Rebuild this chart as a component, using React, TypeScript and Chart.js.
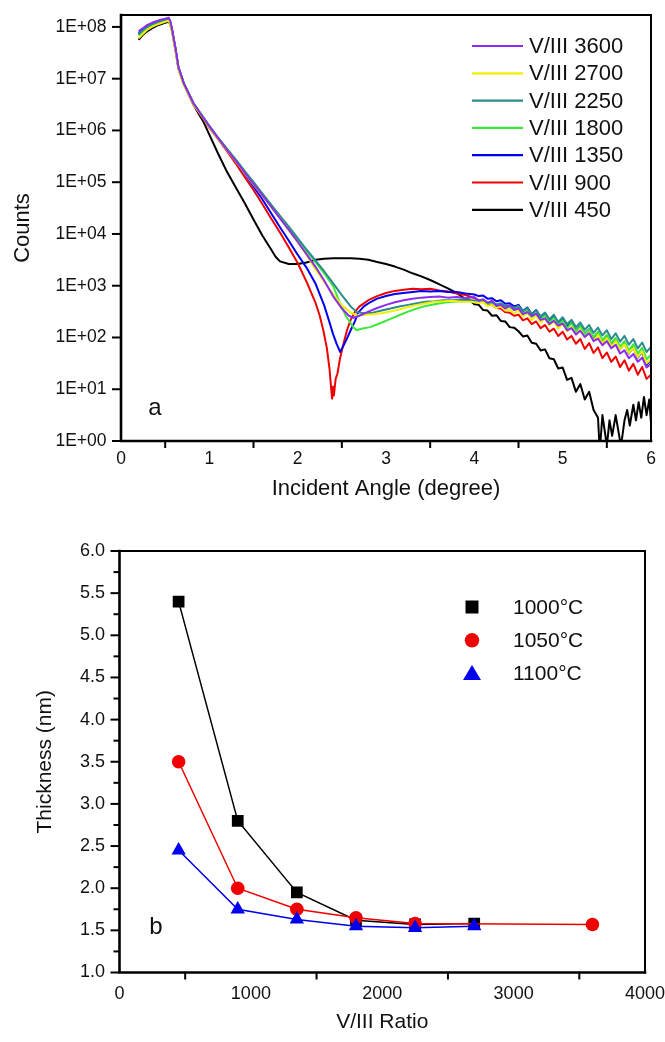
import React, { useEffect, useRef } from "react";
import { Chart, registerables } from "chart.js";

Chart.register(...registerables);

const FONT = "'Liberation Sans', Arial, Helvetica, sans-serif";
const INK = "#111111";

// ---------------- Panel a: XRR curves (angle in degree, log10 of counts) ----------------
const angleMinorTicks = [0.5, 1.5, 2.5, 3.5, 4.5, 5.5];
const countDecades = [1, 10, 100, 1e3, 1e4, 1e5, 1e6, 1e7, 1e8];
const countTickLabels = ["1E+00", "1E+01", "1E+02", "1E+03", "1E+04", "1E+05", "1E+06", "1E+07", "1E+08"];
const xrrLabels = ["V/III 3600", "V/III 2700", "V/III 2250", "V/III 1800", "V/III 1350", "V/III 900", "V/III 450"];

const log3600 = [
  [0.2, 7.92], [0.25, 7.98], [0.3, 8.04], [0.35, 8.08], [0.4, 8.11], [0.45, 8.14], [0.5, 8.16], [0.54, 8.18],
  [0.56, 8.1], [0.58, 7.93], [0.62, 7.55], [0.65, 7.22], [0.71, 6.91], [0.82, 6.52], [0.93, 6.25], [1.0, 6.08],
  [1.09, 5.87], [1.2, 5.63], [1.3, 5.41], [1.4, 5.19], [1.5, 4.97], [1.6, 4.75], [1.7, 4.53], [1.8, 4.3],
  [1.9, 4.08], [2.0, 3.85], [2.1, 3.61], [2.2, 3.37], [2.3, 3.1], [2.4, 2.8], [2.5, 2.56], [2.58, 2.42],
  [2.63, 2.38], [2.7, 2.42], [2.8, 2.5], [2.9, 2.57], [3.0, 2.63], [3.1, 2.68], [3.2, 2.72], [3.3, 2.75],
  [3.4, 2.77], [3.5, 2.78], [3.6, 2.79], [3.7, 2.77], [3.8, 2.78], [3.9, 2.76], [4.0, 2.78], [4.05, 2.71],
  [4.1, 2.74], [4.15, 2.67], [4.2, 2.71], [4.25, 2.61], [4.3, 2.63], [4.35, 2.56], [4.4, 2.62], [4.45, 2.53],
  [4.5, 2.56], [4.55, 2.45], [4.6, 2.49], [4.65, 2.41], [4.7, 2.46], [4.75, 2.34], [4.8, 2.37], [4.85, 2.26],
  [4.9, 2.32], [4.95, 2.23], [5.0, 2.27], [5.05, 2.14], [5.1, 2.18], [5.15, 2.06], [5.2, 2.13], [5.25, 2.01],
  [5.3, 2.08], [5.35, 1.93], [5.4, 1.98], [5.45, 1.85], [5.5, 1.93], [5.55, 1.79], [5.6, 1.86], [5.65, 1.69],
  [5.7, 1.75], [5.75, 1.6], [5.8, 1.68], [5.85, 1.53], [5.9, 1.61], [5.95, 1.42], [6.0, 1.49],
];

const log2700 = [
  [0.2, 7.78], [0.25, 7.87], [0.3, 7.95], [0.35, 8.0], [0.4, 8.04], [0.45, 8.07], [0.5, 8.1], [0.54, 8.12],
  [0.56, 8.02], [0.58, 7.88], [0.62, 7.5], [0.65, 7.18], [0.71, 6.88], [0.82, 6.5], [0.93, 6.24], [1.0, 6.06],
  [1.09, 5.85], [1.2, 5.62], [1.3, 5.4], [1.4, 5.18], [1.5, 4.96], [1.6, 4.74], [1.7, 4.52], [1.8, 4.3],
  [1.9, 4.07], [2.0, 3.84], [2.1, 3.6], [2.2, 3.32], [2.3, 3.08], [2.4, 2.84], [2.5, 2.62], [2.6, 2.48],
  [2.67, 2.43], [2.75, 2.44], [2.85, 2.45], [2.95, 2.47], [3.05, 2.5], [3.15, 2.54], [3.25, 2.59], [3.35, 2.63],
  [3.45, 2.66], [3.55, 2.69], [3.65, 2.7], [3.75, 2.71], [3.85, 2.69], [3.95, 2.69], [4.05, 2.67], [4.1, 2.68],
  [4.15, 2.61], [4.2, 2.63], [4.25, 2.57], [4.3, 2.6], [4.35, 2.52], [4.4, 2.54], [4.45, 2.47], [4.5, 2.52],
  [4.55, 2.4], [4.6, 2.48], [4.65, 2.34], [4.7, 2.43], [4.75, 2.29], [4.8, 2.37], [4.85, 2.23], [4.9, 2.32],
  [4.95, 2.17], [5.0, 2.27], [5.05, 2.12], [5.1, 2.21], [5.15, 2.06], [5.2, 2.16], [5.25, 2.0], [5.3, 2.1],
  [5.35, 1.94], [5.4, 2.05], [5.45, 1.89], [5.5, 1.99], [5.55, 1.83], [5.6, 1.93], [5.65, 1.77], [5.7, 1.87],
  [5.75, 1.7], [5.8, 1.8], [5.85, 1.62], [5.9, 1.73], [5.95, 1.5], [6.0, 1.58],
];

const log2250 = [
  [0.2, 7.86], [0.25, 7.94], [0.3, 8.0], [0.35, 8.05], [0.4, 8.08], [0.45, 8.11], [0.5, 8.13], [0.54, 8.15],
  [0.56, 8.08], [0.58, 7.92], [0.62, 7.54], [0.65, 7.22], [0.71, 6.92], [0.82, 6.53], [0.93, 6.26], [1.0, 6.09],
  [1.09, 5.88], [1.2, 5.64], [1.3, 5.43], [1.4, 5.21], [1.5, 5.0], [1.6, 4.78], [1.7, 4.56], [1.8, 4.35],
  [1.9, 4.14], [2.0, 3.92], [2.1, 3.7], [2.2, 3.49], [2.3, 3.28], [2.4, 3.05], [2.5, 2.82], [2.6, 2.6],
  [2.67, 2.49], [2.75, 2.47], [2.85, 2.48], [2.95, 2.52], [3.05, 2.56], [3.15, 2.6], [3.25, 2.63], [3.35, 2.66],
  [3.45, 2.69], [3.55, 2.7], [3.65, 2.72], [3.75, 2.72], [3.85, 2.73], [3.95, 2.72], [4.05, 2.71], [4.1, 2.72],
  [4.15, 2.67], [4.2, 2.69], [4.25, 2.64], [4.3, 2.66], [4.35, 2.61], [4.4, 2.62], [4.45, 2.57], [4.5, 2.61],
  [4.55, 2.51], [4.6, 2.57], [4.65, 2.45], [4.7, 2.53], [4.75, 2.41], [4.8, 2.48], [4.85, 2.35], [4.9, 2.44],
  [4.95, 2.3], [5.0, 2.39], [5.05, 2.26], [5.1, 2.34], [5.15, 2.2], [5.2, 2.29], [5.25, 2.15], [5.3, 2.24],
  [5.35, 2.09], [5.4, 2.19], [5.45, 2.04], [5.5, 2.14], [5.55, 1.97], [5.6, 2.08], [5.65, 1.92], [5.7, 2.03],
  [5.75, 1.86], [5.8, 1.97], [5.85, 1.79], [5.9, 1.9], [5.95, 1.72], [6.0, 1.82],
];

const log1800 = [
  [0.2, 7.84], [0.25, 7.92], [0.3, 7.99], [0.35, 8.04], [0.4, 8.07], [0.45, 8.1], [0.5, 8.12], [0.54, 8.14],
  [0.56, 8.07], [0.58, 7.92], [0.62, 7.54], [0.65, 7.22], [0.71, 6.92], [0.82, 6.53], [0.93, 6.26], [1.0, 6.09],
  [1.09, 5.88], [1.2, 5.65], [1.3, 5.44], [1.4, 5.22], [1.5, 5.0], [1.6, 4.78], [1.7, 4.56], [1.8, 4.34],
  [1.9, 4.12], [2.0, 3.9], [2.1, 3.68], [2.2, 3.46], [2.3, 3.24], [2.4, 3.0], [2.48, 2.66], [2.55, 2.4],
  [2.63, 2.2], [2.67, 2.14], [2.72, 2.17], [2.82, 2.2], [2.94, 2.28], [3.05, 2.36], [3.15, 2.43], [3.25, 2.5],
  [3.35, 2.56], [3.45, 2.61], [3.55, 2.64], [3.65, 2.67], [3.75, 2.69], [3.85, 2.7], [3.95, 2.71], [4.05, 2.7],
  [4.1, 2.71], [4.15, 2.65], [4.2, 2.67], [4.25, 2.61], [4.3, 2.63], [4.35, 2.57], [4.4, 2.59], [4.45, 2.53],
  [4.5, 2.57], [4.55, 2.46], [4.6, 2.53], [4.65, 2.4], [4.7, 2.47], [4.75, 2.35], [4.8, 2.43], [4.85, 2.29],
  [4.9, 2.38], [4.95, 2.24], [5.0, 2.33], [5.05, 2.18], [5.1, 2.28], [5.15, 2.12], [5.2, 2.22], [5.25, 2.07],
  [5.3, 2.16], [5.35, 2.01], [5.4, 2.11], [5.45, 1.95], [5.5, 2.05], [5.55, 1.89], [5.6, 1.99], [5.65, 1.82],
  [5.7, 1.93], [5.75, 1.75], [5.8, 1.87], [5.85, 1.69], [5.9, 1.8], [5.95, 1.58], [6.0, 1.66],
];

const log1350 = [
  [0.2, 7.88], [0.25, 7.95], [0.3, 8.01], [0.35, 8.06], [0.4, 8.09], [0.45, 8.12], [0.5, 8.14], [0.54, 8.16],
  [0.56, 8.08], [0.58, 7.93], [0.62, 7.55], [0.65, 7.22], [0.71, 6.91], [0.82, 6.52], [0.93, 6.25], [1.0, 6.07],
  [1.09, 5.86], [1.2, 5.62], [1.3, 5.4], [1.4, 5.17], [1.5, 4.92], [1.6, 4.67], [1.7, 4.4], [1.8, 4.13],
  [1.9, 3.87], [2.0, 3.6], [2.1, 3.35], [2.2, 3.05], [2.3, 2.62], [2.35, 2.35], [2.4, 2.07], [2.44, 1.88],
  [2.48, 1.72], [2.5, 1.78], [2.55, 1.95], [2.6, 2.14], [2.65, 2.32], [2.68, 2.47], [2.75, 2.6], [2.82, 2.68],
  [2.9, 2.75], [3.0, 2.8], [3.1, 2.84], [3.2, 2.86], [3.3, 2.88], [3.4, 2.9], [3.5, 2.89], [3.6, 2.9],
  [3.7, 2.88], [3.8, 2.88], [3.9, 2.85], [4.0, 2.83], [4.05, 2.8], [4.1, 2.81], [4.15, 2.75], [4.2, 2.76],
  [4.25, 2.7], [4.3, 2.72], [4.35, 2.65], [4.4, 2.66], [4.45, 2.6], [4.5, 2.63], [4.55, 2.51], [4.6, 2.58],
  [4.65, 2.45], [4.7, 2.53], [4.75, 2.39], [4.8, 2.47], [4.85, 2.33], [4.9, 2.41], [4.95, 2.27], [5.0, 2.35],
  [5.05, 2.21], [5.1, 2.29], [5.15, 2.13], [5.2, 2.23], [5.25, 2.07], [5.3, 2.16], [5.35, 1.99], [5.4, 2.1],
  [5.45, 1.92], [5.5, 2.03], [5.55, 1.85], [5.6, 1.96], [5.65, 1.77], [5.7, 1.89], [5.75, 1.69], [5.8, 1.81],
  [5.85, 1.61], [5.9, 1.72], [5.95, 1.47], [6.0, 1.57],
];

const log900 = [
  [0.2, 7.85], [0.25, 7.93], [0.3, 8.0], [0.35, 8.05], [0.4, 8.08], [0.45, 8.11], [0.5, 8.13], [0.54, 8.15],
  [0.56, 8.07], [0.58, 7.92], [0.62, 7.54], [0.65, 7.21], [0.71, 6.9], [0.82, 6.5], [0.93, 6.23], [1.0, 6.05],
  [1.09, 5.85], [1.2, 5.6], [1.3, 5.36], [1.4, 5.1], [1.5, 4.85], [1.6, 4.58], [1.7, 4.3], [1.8, 4.03],
  [1.9, 3.74], [2.0, 3.44], [2.1, 3.08], [2.2, 2.68], [2.25, 2.42], [2.29, 2.14], [2.33, 1.8], [2.36, 1.4],
  [2.38, 1.0], [2.39, 0.82], [2.4, 1.05], [2.41, 0.88], [2.43, 1.2], [2.45, 1.3], [2.48, 1.6], [2.52, 1.89],
  [2.56, 2.15], [2.6, 2.34], [2.65, 2.5], [2.7, 2.6], [2.75, 2.66], [2.8, 2.72], [2.9, 2.8], [3.0, 2.86],
  [3.1, 2.9], [3.2, 2.92], [3.3, 2.94], [3.4, 2.93], [3.5, 2.94], [3.6, 2.91], [3.7, 2.89], [3.8, 2.85],
  [3.9, 2.82], [4.0, 2.76], [4.05, 2.72], [4.1, 2.7], [4.15, 2.64], [4.2, 2.63], [4.25, 2.57], [4.3, 2.56],
  [4.35, 2.49], [4.4, 2.48], [4.45, 2.42], [4.5, 2.44], [4.55, 2.33], [4.6, 2.37], [4.65, 2.26], [4.7, 2.31],
  [4.75, 2.18], [4.8, 2.24], [4.85, 2.11], [4.9, 2.17], [4.95, 2.03], [5.0, 2.11], [5.05, 1.96], [5.1, 2.03],
  [5.15, 1.88], [5.2, 1.97], [5.25, 1.78], [5.3, 1.89], [5.35, 1.7], [5.4, 1.81], [5.45, 1.6], [5.5, 1.71],
  [5.55, 1.53], [5.6, 1.63], [5.65, 1.43], [5.7, 1.56], [5.75, 1.36], [5.8, 1.49], [5.85, 1.28], [5.9, 1.43],
  [5.95, 1.2], [6.0, 1.28],
];

const log450 = [
  [0.2, 7.75], [0.25, 7.85], [0.3, 7.92], [0.35, 7.97], [0.4, 8.02], [0.45, 8.05], [0.5, 8.08], [0.54, 8.1],
  [0.56, 8.03], [0.58, 7.9], [0.62, 7.52], [0.65, 7.2], [0.71, 6.9], [0.82, 6.5], [0.88, 6.32], [0.93, 6.18],
  [1.0, 5.92], [1.1, 5.55], [1.2, 5.2], [1.3, 4.9], [1.4, 4.6], [1.5, 4.28], [1.6, 3.97], [1.7, 3.7],
  [1.75, 3.56], [1.8, 3.47], [1.9, 3.42], [2.0, 3.42], [2.1, 3.45], [2.2, 3.5], [2.3, 3.52], [2.4, 3.53],
  [2.5, 3.53], [2.6, 3.53], [2.7, 3.52], [2.8, 3.5], [2.9, 3.46], [3.0, 3.42], [3.1, 3.37], [3.2, 3.31],
  [3.3, 3.24], [3.4, 3.18], [3.5, 3.11], [3.6, 3.03], [3.7, 2.95], [3.8, 2.86], [3.85, 2.8], [3.9, 2.74],
  [3.95, 2.72], [4.0, 2.64], [4.05, 2.63], [4.1, 2.53], [4.15, 2.52], [4.2, 2.42], [4.25, 2.43], [4.3, 2.32],
  [4.35, 2.31], [4.4, 2.2], [4.45, 2.19], [4.5, 2.12], [4.55, 2.02], [4.6, 2.04], [4.65, 1.9], [4.7, 1.88],
  [4.75, 1.75], [4.8, 1.77], [4.85, 1.6], [4.9, 1.58], [4.95, 1.4], [5.0, 1.42], [5.05, 1.18], [5.1, 1.22],
  [5.15, 0.95], [5.2, 1.1], [5.25, 0.8], [5.3, 0.95], [5.35, 0.6], [5.4, 0.45], [5.42, -0.2], [5.45, 0.5],
  [5.48, 0.15], [5.5, -0.1], [5.53, 0.4], [5.56, 0.1], [5.6, 0.5], [5.63, 0.2], [5.66, -0.1], [5.7, 0.4],
  [5.73, 0.6], [5.76, 0.3], [5.8, 0.7], [5.83, 0.4], [5.86, 0.75], [5.89, 0.45], [5.92, 0.85], [5.95, 0.5],
  [5.98, 0.8], [6.0, 0.35],
];

// ---------------- Panel b: thickness vs V/III ratio ----------------
const ratios = [450, 900, 1350, 1800, 2250, 2700, 3600];
const thick1000 = [5.4, 2.8, 1.95, 1.62, 1.57, 1.58, null];
const thick1050 = [3.5, 2.0, 1.75, 1.65, 1.58, null, 1.57];
const thick1100 = [2.45, 1.75, 1.63, 1.55, 1.53, 1.55, null];
const tempLabels = ["1000°C", "1050°C", "1100°C"];
const ratioMinorTicks = [500, 1500, 2500, 3500];
const thicknessTicks = [1.0, 1.25, 1.5, 1.75, 2.0, 2.25, 2.5, 2.75, 3.0, 3.25, 3.5, 3.75, 4.0, 4.25, 4.5, 4.75, 5.0, 5.25, 5.5, 5.75, 6.0];

type TickSpec = { v: number; len: number };

function makeFramePlugin(xTicks: TickSpec[], yTicks: TickSpec[], letter: string, letterDx: number, letterDy: number) {
  return {
    id: "frameTicks",
    afterDatasetsDraw(chart: any) {
      const { ctx, chartArea, scales } = chart;
      const { left, right, top, bottom } = chartArea;
      ctx.save();
      ctx.strokeStyle = "#000";
      ctx.lineCap = "square";
      ctx.lineWidth = 2;
      ctx.beginPath();
      ctx.moveTo(left, top);
      ctx.lineTo(right, top);
      ctx.lineTo(right, bottom);
      ctx.stroke();
      ctx.lineWidth = 2.6;
      ctx.beginPath();
      ctx.moveTo(left, top);
      ctx.lineTo(left, bottom);
      ctx.lineTo(right, bottom);
      ctx.stroke();
      ctx.lineWidth = 2;
      ctx.lineCap = "butt";
      for (const t of xTicks) {
        const px = scales.x.getPixelForValue(t.v);
        ctx.beginPath();
        ctx.moveTo(px, bottom);
        ctx.lineTo(px, bottom + t.len);
        ctx.stroke();
      }
      for (const t of yTicks) {
        const py = scales.y.getPixelForValue(t.v);
        ctx.beginPath();
        ctx.moveTo(left, py);
        ctx.lineTo(left - t.len, py);
        ctx.stroke();
      }
      ctx.fillStyle = INK;
      ctx.font = `24px ${FONT}`;
      ctx.textAlign = "center";
      ctx.textBaseline = "middle";
      ctx.fillText(letter, left + letterDx, bottom - letterDy);
      ctx.restore();
    },
  };
}

const xrrLegendPlugin = {
  id: "xrrLegend",
  afterDraw(chart: any) {
    const { ctx, chartArea } = chart;
    ctx.save();
    ctx.font = `22px ${FONT}`;
    ctx.textAlign = "left";
    ctx.textBaseline = "middle";
    chart.data.datasets.forEach((ds: any, i: number) => {
      const y = chartArea.top + 31 + i * 27.3;
      ctx.strokeStyle = ds.borderColor;
      ctx.lineWidth = 2.2;
      ctx.beginPath();
      ctx.moveTo(chartArea.right - 179, y);
      ctx.lineTo(chartArea.right - 128, y);
      ctx.stroke();
      ctx.fillStyle = INK;
      ctx.fillText(ds.label, chartArea.right - 122, y + 1);
    });
    ctx.restore();
  },
};

const thickLegendPlugin = {
  id: "thickLegend",
  afterDraw(chart: any) {
    const { ctx, chartArea } = chart;
    ctx.save();
    ctx.font = `21px ${FONT}`;
    ctx.textAlign = "left";
    ctx.textBaseline = "middle";
    const order = [0, 1, 2];
    order.forEach((idx, row) => {
      const ds = chart.data.datasets.find((d: any) => d.legendIndex === idx);
      const y = chartArea.top + 56 + row * 33.3;
      const x = chartArea.right - 173;
      ctx.fillStyle = ds.backgroundColor;
      ctx.beginPath();
      if (ds.pointStyle === "rect") {
        ctx.rect(x - 6.5, y - 6.5, 13, 13);
      } else if (ds.pointStyle === "circle") {
        ctx.arc(x, y, 7.2, 0, Math.PI * 2);
      } else {
        ctx.moveTo(x, y - 8.5);
        ctx.lineTo(x + 9, y + 6.5);
        ctx.lineTo(x - 9, y + 6.5);
        ctx.closePath();
      }
      ctx.fill();
      ctx.fillStyle = INK;
      ctx.fillText(ds.label, chartArea.right - 132, y + 1);
    });
    ctx.restore();
  },
};

function XrrChart() {
  const ref = useRef<HTMLCanvasElement>(null);
  useEffect(() => {
    const series = [log3600, log2700, log2250, log1800, log1350, log900, log450];
    const colors = ["#8C2CF2", "#F0F000", "#2A8C8C", "#3CE83C", "#0000EE", "#F00000", "#000000"];
    const tickFont = { family: FONT, size: 17.5 };
    const titleFont = { family: FONT, size: 22 };
    const chart = new Chart(ref.current as HTMLCanvasElement, {
      type: "line",
      data: {
        datasets: series.map((s, i) => ({
          label: xrrLabels[i],
          data: s.map(([a, l]) => ({ x: a, y: 10 ** l })),
          borderColor: colors[i],
          backgroundColor: colors[i],
          borderWidth: 2,
          pointRadius: 0,
          tension: 0,
          fill: false,
          borderJoinStyle: "round",
        })),
      },
      options: {
        responsive: false,
        animation: false,
        events: [],
        layout: { padding: { left: 0, top: 15, right: 14, bottom: 0 } },
        plugins: { legend: { display: false }, tooltip: { enabled: false } },
        scales: {
          x: {
            type: "linear",
            min: 0,
            max: 6,
            ticks: { stepSize: 1, font: tickFont, color: INK, padding: 1, maxRotation: 0, callback: (v: any) => String(v) },
            grid: { display: false, drawTicks: true, tickLength: 7 },
            border: { display: false },
            title: { display: true, text: "Incident Angle (degree)", font: titleFont, color: INK, padding: { top: 0, bottom: 3 } },
            afterFit: (s: any) => {
              s.height = 64;
              s.paddingLeft = 0;
              s.paddingRight = 0;
            },
          },
          y: {
            type: "logarithmic",
            min: 1,
            max: 1.7e8,
            afterBuildTicks: (s: any) => {
              s.ticks = countDecades.map((v) => ({ value: v }));
            },
            ticks: { font: tickFont, color: INK, padding: 5.5, autoSkip: false, callback: (_v: any, i: number) => countTickLabels[i] },
            grid: { display: false, drawTicks: true, tickLength: 9 },
            border: { display: false },
            title: { display: true, text: "Counts", font: titleFont, color: INK, padding: { top: 10, bottom: 0 } },
            afterFit: (s: any) => {
              s.width = 121;
              s.paddingTop = 0;
              s.paddingBottom = 0;
            },
          },
        },
      },
      plugins: [
        makeFramePlugin(
          angleMinorTicks.map((v) => ({ v, len: 7 })),
          countDecades.map((v) => ({ v, len: 9 })),
          "a",
          34,
          33
        ),
        xrrLegendPlugin,
      ],
    } as any);
    return () => chart.destroy();
  }, []);
  return (
    <canvas
      ref={ref}
      width={665}
      height={505}
      style={{ position: "absolute", left: 0, top: 0, width: 665, height: 505, display: "block" }}
    />
  );
}

function ThicknessChart() {
  const ref = useRef<HTMLCanvasElement>(null);
  useEffect(() => {
    const toPts = (vals: (number | null)[]) =>
      ratios.map((r, i) => ({ x: r, y: vals[i] })).filter((p) => p.y !== null);
    const tickFont = { family: FONT, size: 18 };
    const titleFont = { family: FONT, size: 21 };
    const common = { borderWidth: 1.5, tension: 0, fill: false, pointBorderWidth: 0 };
    const chart = new Chart(ref.current as HTMLCanvasElement, {
      type: "line",
      data: {
        datasets: [
          {
            ...common,
            label: tempLabels[0],
            legendIndex: 0,
            order: 3,
            data: toPts(thick1000),
            borderColor: "#000000",
            backgroundColor: "#000000",
            pointStyle: "rect",
            pointRadius: 8.3,
          },
          {
            ...common,
            label: tempLabels[1],
            legendIndex: 1,
            order: 2,
            data: toPts(thick1050),
            borderColor: "#F00000",
            backgroundColor: "#F00000",
            pointStyle: "circle",
            pointRadius: 6.8,
          },
          {
            ...common,
            label: tempLabels[2],
            legendIndex: 2,
            order: 1,
            data: toPts(thick1100),
            borderColor: "#0000EE",
            backgroundColor: "#0000EE",
            pointStyle: "triangle",
            pointRadius: 8.3,
          },
        ],
      },
      options: {
        responsive: false,
        animation: false,
        events: [],
        layout: { padding: { left: 0, top: 46, right: 20, bottom: 0 } },
        plugins: { legend: { display: false }, tooltip: { enabled: false } },
        scales: {
          x: {
            type: "linear",
            min: 0,
            max: 4000,
            ticks: { stepSize: 1000, font: tickFont, color: INK, padding: 4, maxRotation: 0, callback: (v: any) => String(v) },
            grid: { display: false, drawTicks: true, tickLength: 7 },
            border: { display: false },
            title: { display: true, text: "V/III Ratio", font: titleFont, color: INK, padding: { top: 0, bottom: 7 } },
            afterFit: (s: any) => {
              s.height = 69.5;
              s.paddingLeft = 0;
              s.paddingRight = 0;
            },
          },
          y: {
            type: "linear",
            min: 1,
            max: 6,
            ticks: { stepSize: 0.5, font: tickFont, color: INK, padding: 5.5, callback: (v: any) => Number(v).toFixed(1) },
            grid: { display: false, drawTicks: true, tickLength: 9 },
            border: { display: false },
            title: { display: true, text: "Thickness (nm)", font: titleFont, color: INK, padding: { top: 33, bottom: 0 } },
            afterFit: (s: any) => {
              s.width = 119.5;
              s.paddingTop = 0;
              s.paddingBottom = 0;
            },
          },
        },
      },
      plugins: [
        makeFramePlugin(
          ratioMinorTicks.map((v) => ({ v, len: 7 })),
          thicknessTicks.map((v) => ({ v, len: Math.round(v * 2) === v * 2 ? 9 : 6 })),
          "b",
          36.5,
          45.5
        ),
        thickLegendPlugin,
      ],
    } as any);
    return () => chart.destroy();
  }, []);
  return (
    <canvas
      ref={ref}
      width={665}
      height={537}
      style={{ position: "absolute", left: 0, top: 505, width: 665, height: 537, display: "block" }}
    />
  );
}

export default function App() {
  return (
    <div style={{ position: "absolute", left: 0, top: 0, width: 665, height: 1042, background: "#fff" }}>
      <XrrChart />
      <ThicknessChart />
    </div>
  );
}
